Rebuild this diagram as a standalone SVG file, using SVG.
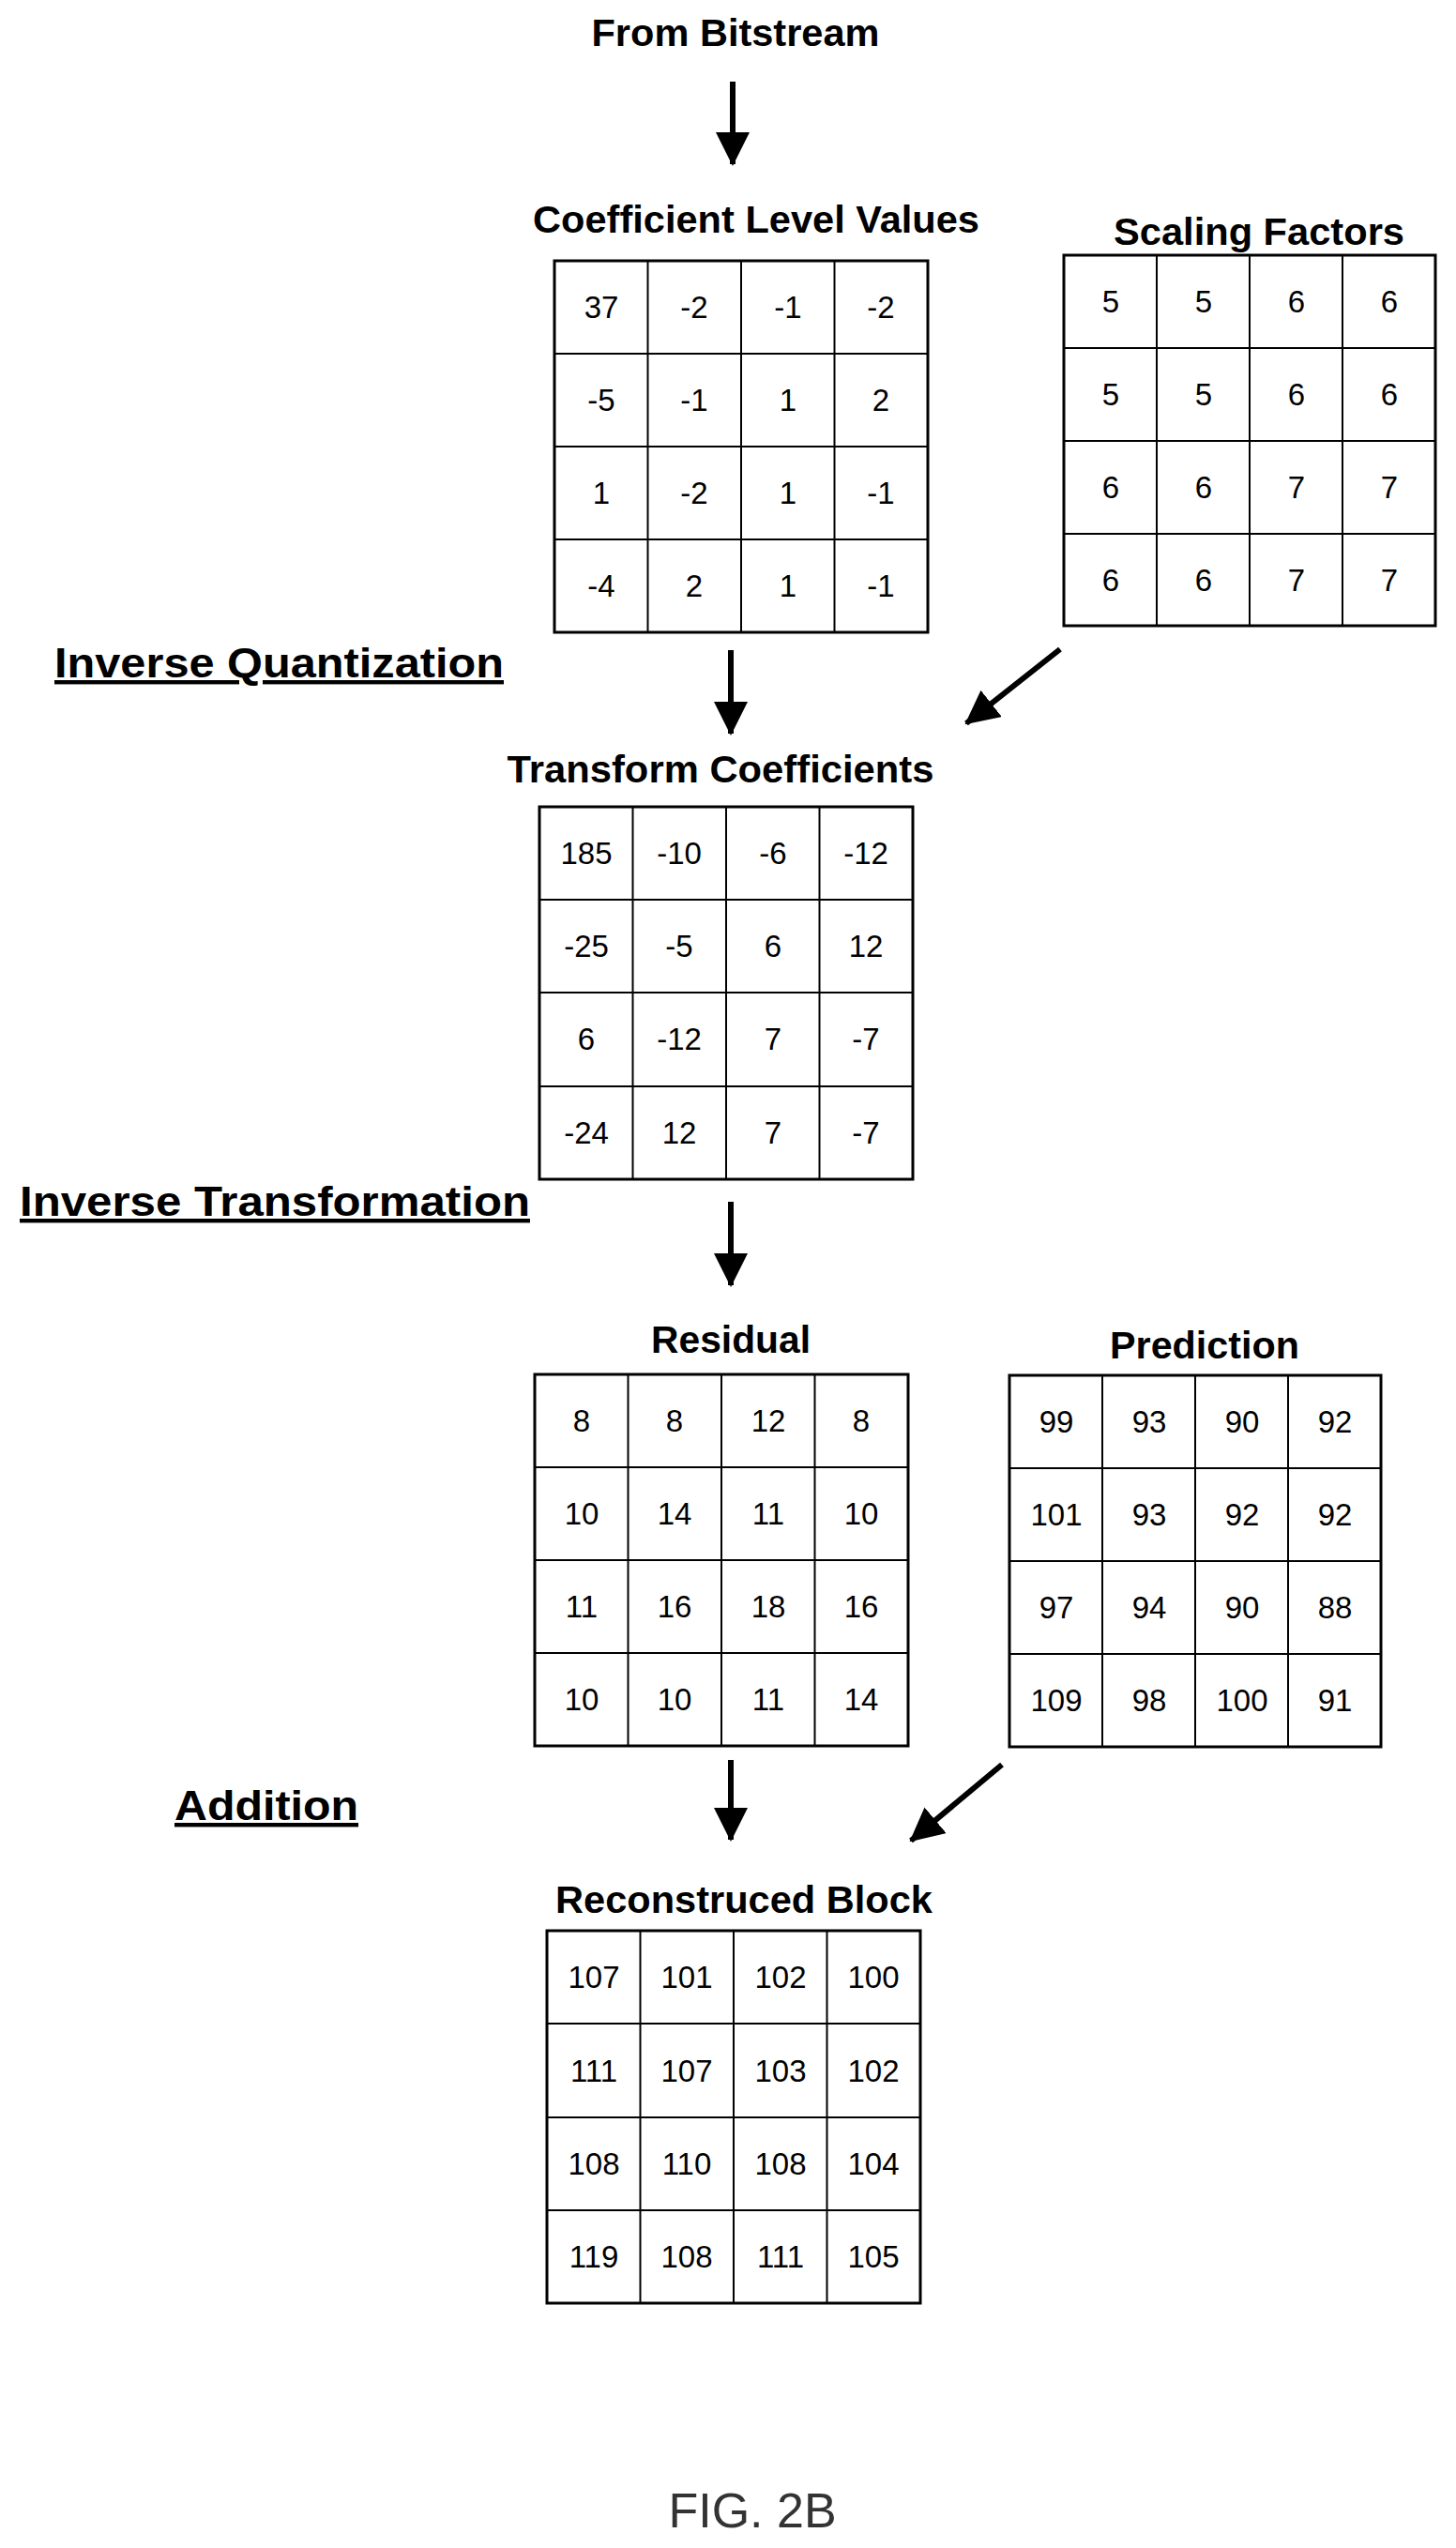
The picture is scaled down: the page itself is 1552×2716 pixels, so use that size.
<svg xmlns="http://www.w3.org/2000/svg" width="1552" height="2716" viewBox="0 0 1552 2716">
<style>
.t{font-family:"Liberation Sans",Arial,sans-serif;font-weight:bold;font-size:40px;text-anchor:middle;fill:#000}
.h{font-family:"Liberation Sans",Arial,sans-serif;font-weight:bold;font-size:44px;fill:#000;text-decoration:underline}
.n{font-family:"Liberation Sans",Arial,sans-serif;font-size:33px;text-anchor:middle;fill:#000}
.g{fill:#fff;stroke:#000;stroke-width:3}
.l{stroke:#000;stroke-width:2}
.a{stroke:#000;stroke-width:6;fill:none;marker-end:url(#ah)}
</style>
<defs>
<marker id="ah" markerUnits="userSpaceOnUse" markerWidth="36" markerHeight="36" refX="34" refY="18" orient="auto">
<path d="M0,0 L36,18 L0,36 Z" fill="#000"/>
</marker>
</defs>
<rect width="1552" height="2716" fill="#fff"/>
<text class="t" x="784" y="49" textLength="307" lengthAdjust="spacingAndGlyphs">From Bitstream</text>
<text class="h" x="58" y="722" textLength="479" lengthAdjust="spacingAndGlyphs">Inverse Quantization</text>
<text class="h" x="21" y="1296" textLength="544" lengthAdjust="spacingAndGlyphs">Inverse Transformation</text>
<text class="h" x="186" y="1940" textLength="196" lengthAdjust="spacingAndGlyphs">Addition</text>
<text x="802" y="2694" style="font-family:'Liberation Sans',Arial,sans-serif;font-size:52px;text-anchor:middle;fill:#333">FIG. 2B</text>

<g id="coef">
<text class="t" x="806" y="248" textLength="476" lengthAdjust="spacingAndGlyphs">Coefficient Level Values</text>
<rect class="g" x="591" y="278" width="398" height="396"/>
<path class="l" d="M690.5,278V674M790,278V674M889.5,278V674M591,377H989M591,476H989M591,575H989"/>
<g class="n">
<text x="641" y="339">37</text><text x="740" y="339">-2</text><text x="840" y="339">-1</text><text x="939" y="339">-2</text>
<text x="641" y="438">-5</text><text x="740" y="438">-1</text><text x="840" y="438">1</text><text x="939" y="438">2</text>
<text x="641" y="537">1</text><text x="740" y="537">-2</text><text x="840" y="537">1</text><text x="939" y="537">-1</text>
<text x="641" y="636">-4</text><text x="740" y="636">2</text><text x="840" y="636">1</text><text x="939" y="636">-1</text>
</g>
</g>

<g id="scal">
<text class="t" x="1342" y="261" textLength="310" lengthAdjust="spacingAndGlyphs">Scaling Factors</text>
<rect class="g" x="1134" y="272" width="396" height="395"/>
<path class="l" d="M1233,272V667M1332,272V667M1431,272V667M1134,371H1530M1134,470H1530M1134,569H1530"/>
<g class="n">
<text x="1184" y="333">5</text><text x="1283" y="333">5</text><text x="1382" y="333">6</text><text x="1481" y="333">6</text>
<text x="1184" y="432">5</text><text x="1283" y="432">5</text><text x="1382" y="432">6</text><text x="1481" y="432">6</text>
<text x="1184" y="531">6</text><text x="1283" y="531">6</text><text x="1382" y="531">7</text><text x="1481" y="531">7</text>
<text x="1184" y="630">6</text><text x="1283" y="630">6</text><text x="1382" y="630">7</text><text x="1481" y="630">7</text>
</g>
</g>

<g id="trans">
<text class="t" x="768" y="834" textLength="455" lengthAdjust="spacingAndGlyphs">Transform Coefficients</text>
<rect class="g" x="575" y="860" width="398" height="397"/>
<path class="l" d="M674.5,860V1257M774,860V1257M873.5,860V1257M575,959H973M575,1058H973M575,1158H973"/>
<g class="n">
<text x="625" y="921">185</text><text x="724" y="921">-10</text><text x="824" y="921">-6</text><text x="923" y="921">-12</text>
<text x="625" y="1020">-25</text><text x="724" y="1020">-5</text><text x="824" y="1020">6</text><text x="923" y="1020">12</text>
<text x="625" y="1119">6</text><text x="724" y="1119">-12</text><text x="824" y="1119">7</text><text x="923" y="1119">-7</text>
<text x="625" y="1219">-24</text><text x="724" y="1219">12</text><text x="824" y="1219">7</text><text x="923" y="1219">-7</text>
</g>
</g>

<g id="resid">
<text class="t" x="779" y="1442" textLength="170" lengthAdjust="spacingAndGlyphs">Residual</text>
<rect class="g" x="570" y="1465" width="398" height="396"/>
<path class="l" d="M669.5,1465V1861M769,1465V1861M868.5,1465V1861M570,1564H968M570,1663H968M570,1762H968"/>
<g class="n">
<text x="620" y="1526">8</text><text x="719" y="1526">8</text><text x="819" y="1526">12</text><text x="918" y="1526">8</text>
<text x="620" y="1625">10</text><text x="719" y="1625">14</text><text x="819" y="1625">11</text><text x="918" y="1625">10</text>
<text x="620" y="1724">11</text><text x="719" y="1724">16</text><text x="819" y="1724">18</text><text x="918" y="1724">16</text>
<text x="620" y="1823">10</text><text x="719" y="1823">10</text><text x="819" y="1823">11</text><text x="918" y="1823">14</text>
</g>
</g>

<g id="pred">
<text class="t" x="1284" y="1448" textLength="202" lengthAdjust="spacingAndGlyphs">Prediction</text>
<rect class="g" x="1076" y="1466" width="396" height="396"/>
<path class="l" d="M1175,1466V1862M1274,1466V1862M1373,1466V1862M1076,1565H1472M1076,1664H1472M1076,1763H1472"/>
<g class="n">
<text x="1126" y="1527">99</text><text x="1225" y="1527">93</text><text x="1324" y="1527">90</text><text x="1423" y="1527">92</text>
<text x="1126" y="1626">101</text><text x="1225" y="1626">93</text><text x="1324" y="1626">92</text><text x="1423" y="1626">92</text>
<text x="1126" y="1725">97</text><text x="1225" y="1725">94</text><text x="1324" y="1725">90</text><text x="1423" y="1725">88</text>
<text x="1126" y="1824">109</text><text x="1225" y="1824">98</text><text x="1324" y="1824">100</text><text x="1423" y="1824">91</text>
</g>
</g>

<g id="recon">
<text class="t" x="793" y="2039" textLength="402" lengthAdjust="spacingAndGlyphs">Reconstruced Block</text>
<rect class="g" x="583" y="2058" width="398" height="397"/>
<path class="l" d="M682.5,2058V2455M782,2058V2455M881.5,2058V2455M583,2157H981M583,2257H981M583,2356H981"/>
<g class="n">
<text x="633" y="2119">107</text><text x="732" y="2119">101</text><text x="832" y="2119">102</text><text x="931" y="2119">100</text>
<text x="633" y="2219">111</text><text x="732" y="2219">107</text><text x="832" y="2219">103</text><text x="931" y="2219">102</text>
<text x="633" y="2318">108</text><text x="732" y="2318">110</text><text x="832" y="2318">108</text><text x="931" y="2318">104</text>
<text x="633" y="2417">119</text><text x="732" y="2417">108</text><text x="832" y="2417">111</text><text x="931" y="2417">105</text>
</g>
</g>

<g id="connectors">
<line class="a" x1="781" y1="87" x2="781" y2="175"/>
<line class="a" x1="779" y1="693" x2="779" y2="782"/>
<line class="a" x1="1130" y1="692" x2="1030" y2="771"/>
<line class="a" x1="779" y1="1281" x2="779" y2="1370"/>
<line class="a" x1="779" y1="1876" x2="779" y2="1961"/>
<line class="a" x1="1068" y1="1881" x2="971" y2="1962"/>
</g>
</svg>
